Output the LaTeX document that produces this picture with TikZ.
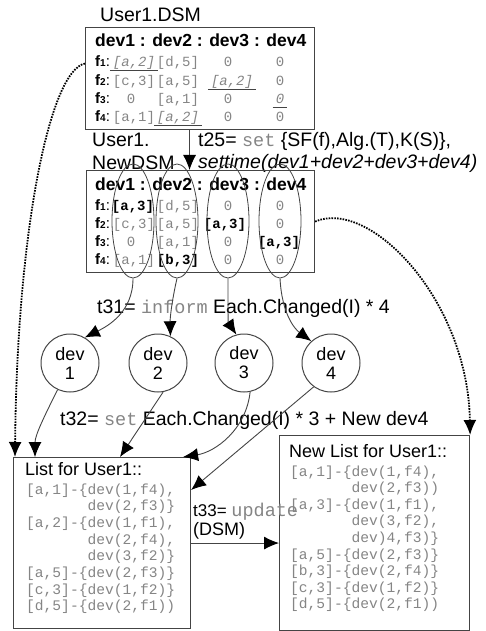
\documentclass[tikz,border=0pt]{standalone}
\usepackage{fontspec}
\setmainfont{Liberation Sans}
\setmonofont{Liberation Mono}
\usetikzlibrary{arrows.meta,shapes.geometric}
\definecolor{mgray}{HTML}{858585}
\definecolor{lgray}{HTML}{444444}
\newcommand\kw[1]{{\fontsize{18.5}{20}\selectfont\ttfamily\color{mgray}#1}}
\newcommand\fl[1]{\textbf{f{\fontsize{10}{10}\selectfont #1}}:}
\begin{document}
\begin{tikzpicture}[x=1pt,y=-1pt,
 lbl/.style={anchor=base west,inner sep=0,font=\fontsize{19.5}{21}\selectfont},
 hdr/.style={anchor=base west,inner sep=0,font=\fontsize{17.5}{19}\selectfont\bfseries},
 flab/.style={anchor=base west,inner sep=0,font=\fontsize{15}{16}\selectfont},
 cellg/.style={anchor=base,inner sep=0,font=\fontsize{14}{15}\selectfont\ttfamily,text=mgray},
 cellb/.style={anchor=base,inner sep=0,font=\fontsize{14}{15}\selectfont\ttfamily\bfseries,text=black},
 celli/.style={anchor=base,inner sep=0,font=\fontsize{14}{15}\selectfont\ttfamily\itshape,text=mgray},
 ul/.style={draw=lgray,line width=0.8pt},
 box/.style={draw=lgray,line width=1.1pt,inner sep=0,anchor=north west},
 ell/.style={ellipse,draw=lgray,line width=0.8pt,minimum width=42pt,minimum height=114pt,inner sep=0},
 devc/.style={circle,draw=lgray,line width=1pt,minimum size=58pt,inner sep=0,align=center,font=\fontsize{18}{19}\selectfont},
 conn/.style={draw=lgray,line width=0.9pt,-{Latex[length=15pt,width=13pt,color=black]}},
 dots/.style={line width=1.8pt,dash pattern=on 1.6pt off 1.2pt,-{Latex[length=15pt,width=13pt]}},
 ltitle/.style={anchor=base west,inner sep=0,font=\fontsize{18}{19}\selectfont},
 ltext/.style={anchor=base west,inner sep=0,font=\fontsize{14.6}{16}\selectfont\ttfamily,text=mgray}
]
\useasboundingbox (0,0) rectangle (485,631);

% ---------- top DSM ----------
\node[lbl] (tDSM) at (100,22) {User1.DSM};
\node[box,minimum width=229pt,minimum height=102pt] (dsm1) at (85,27) {};
\node[hdr] (h1) at (95,47) {dev1 : dev2 : dev3 : dev4};
\node[flab] (a1) at (95,67) {\fl{1}};
\node[flab] (a2) at (95,86) {\fl{2}};
\node[flab] (a3) at (95,104) {\fl{3}};
\node[flab] (a4) at (95,122) {\fl{4}};
% row 1
\node[celli] (a11) at (134,67) {[a,2]};
\node[cellg] (a12) at (178,67) {[d,5]};
\node[cellg] (a13) at (228,67) {0};
\node[cellg] (a14) at (280,67) {0};
% row 2
\node[cellg] (a21) at (134,86) {[c,3]};
\node[cellg] (a22) at (178,86) {[a,5]};
\node[celli] (a23) at (232,86) {[a,2]};
\node[cellg] (a24) at (280,86) {0};
% row 3
\node[cellg] (a31) at (131,104) {0};
\node[cellg] (a32) at (178,104) {[a,1]};
\node[cellg] (a33) at (228,104) {0};
\node[celli] (a34) at (280,104) {0};
% row 4
\node[cellg] (a41) at (134,122) {[a,1]};
\node[celli] (a42) at (178,122) {[a,2]};
\node[cellg] (a43) at (228,122) {0};
\node[cellg] (a44) at (280,122) {0};
\foreach \c in {a11,a23,a34,a42}
  \draw[ul] ([xshift=-3pt,yshift=-3.5pt]\c.base west) -- ([xshift=3pt,yshift=-3.5pt]\c.base east);

% ---------- labels between ----------
\node[lbl] (tNew1) at (92,147) {User1.};
\node[lbl] (tNew2) at (92,169) {NewDSM};
\node[lbl] (t25a) at (198,147) {t25= \kw{set} \{SF(f),Alg.(T),K(S)\},};
\node[lbl] (t25b) at (198,168) {\itshape settime(dev1+dev2+dev3+dev4)};

% ---------- new DSM ----------
\node[box,minimum width=228pt,minimum height=102pt] (dsm2) at (86,170) {};
\node[hdr] (h2) at (95,190) {dev1 : dev2 : dev3 : dev4};
\node[flab] (b1) at (95,210) {\fl{1}};
\node[flab] (b2) at (95,228) {\fl{2}};
\node[flab] (b3) at (95,246) {\fl{3}};
\node[flab] (b4) at (95,264) {\fl{4}};
\node[cellb] (b11) at (133,210) {[a,3]};
\node[cellg] (b12) at (178,210) {[d,5]};
\node[cellg] (b13) at (228,210) {0};
\node[cellg] (b14) at (280,210) {0};
\node[cellg] (b21) at (134,228) {[c,3]};
\node[cellg] (b22) at (178,228) {[a,5]};
\node[cellb] (b23) at (225,228) {[a,3]};
\node[cellg] (b24) at (280,228) {0};
\node[cellg] (b31) at (131,246) {0};
\node[cellg] (b32) at (178,246) {[a,1]};
\node[cellg] (b33) at (228,246) {0};
\node[cellb] (b34) at (279,246) {[a,3]};
\node[cellg] (b41) at (134,264) {[a,1]};
\node[cellb] (b42) at (178,264) {[b,3]};
\node[cellg] (b43) at (228,264) {0};
\node[cellg] (b44) at (280,264) {0};

\node[ell] (e1) at (133,221) {};
\node[ell] (e2) at (177,221) {};
\node[ell] (e3) at (228,221) {};
\node[ell] (e4) at (280,221) {};

\draw[conn] ([xshift=-10.5pt]dsm1.south) -- ([xshift=-11pt]dsm2.north);

% ---------- devices ----------
\node[lbl] (t31) at (97,313) {t31= \kw{inform} Each.Changed(I) * 4};
\node[devc] (d1) at (70,363) {dev\\1};
\node[devc] (d2) at (158,363) {dev\\2};
\node[devc] (d3) at (244,363) {dev\\3};
\node[devc] (d4) at (331,363) {dev\\4};

\draw[conn] (e1.south) .. controls (133,312) and (108,326) .. (d1.60);
\draw[conn] (e2.south) .. controls (172,300) and (170,318) .. (d2.65);
\draw[conn] (e3.south) .. controls (228,310) and (228,322) .. (d3.105);
\draw[conn] (e4.south) .. controls (282,316) and (296,330) .. (d4.132);

\node[lbl] (t32) at (60,425) {t32= \kw{set} Each.Changed(I) * 3 + New dev4};

% ---------- lists ----------
\node[box,minimum width=177pt,minimum height=171pt] (list1) at (13,457) {};
\node[box,minimum width=190pt,minimum height=195pt] (list2) at (279,435) {};

\node[ltitle] (lt1) at (25,475) {List for User1::};
\foreach \t [count=\i] in {{[a,1]-\{dev(1,f4),},{\hphantom{[a,1]-\{}dev(2,f3)\}},
  {[a,2]-\{dev(1,f1),},{\hphantom{[a,1]-\{}dev(2,f4),},{\hphantom{[a,1]-\{}dev(3,f2)\}},
  {[a,5]-\{dev(2,f3)\}},{[c,3]-\{dev(1,f2)\}},{[d,5]-\{dev(2,f1))}}
  \node[ltext] (la\i) at (26,{494+16.7*(\i-1)}) {\t};

\node[ltitle] (lt2) at (289,457) {New List for User1::};
\foreach \t [count=\i] in {{[a,1]-\{dev(1,f4),},{\hphantom{[a,1]-\{}dev(2,f3))},
  {[a,3]-\{dev(1,f1),},{\hphantom{[a,1]-\{}dev(3,f2),},{\hphantom{[a,1]-\{}dev)4,f3)\}},
  {[a,5]-\{dev(2,f3)\}},{[b,3]-\{dev(2,f4)\}},{[c,3]-\{dev(1,f2)\}},{[d,5]-\{dev(2,f1))}}
  \node[ltext] (lb\i) at (290,{476+16.6*(\i-1)}) {\t};

\node[anchor=base west,inner sep=0,font=\fontsize{17}{18}\selectfont] (t33) at (193,516) {t33= \kw{update}};
\node[anchor=base west,inner sep=0,font=\fontsize{18}{19}\selectfont] (t33b) at (193,535) {(DSM)};

\draw[conn] (d1.245) .. controls (45,415) and (35,435) .. ([xshift=22pt]list1.north west);
\draw[conn] (d2.280) -- ([xshift=107pt]list1.north west);
\draw[conn] (d3.282) .. controls (246,430) and (215,452) .. ([xshift=-8pt]list1.north east);
\draw[conn] (d4.234) -- ([yshift=-33pt]list1.north east);
\draw[conn] (list1.east) -- (list1.east -| list2.west);

% ---------- dotted ----------
\draw[dots] ([yshift=15pt]dsm1.west) .. controls (50,70) and (17,230) .. ([xshift=2pt]list1.north west);
\draw[dots] (dsm2.east) .. controls (370,198) and (468,300) .. (list2.north east);
\end{tikzpicture}
\end{document}
